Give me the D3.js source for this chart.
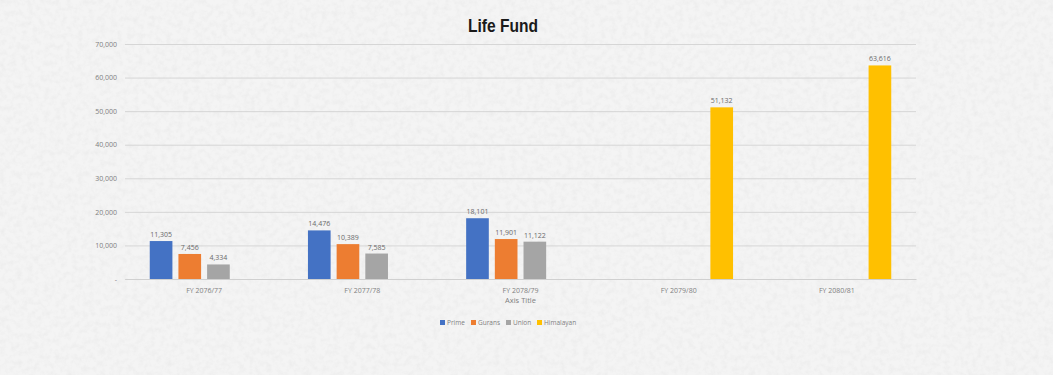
<!DOCTYPE html>
<html>
<head>
<meta charset="utf-8">
<script src="https://cdn.jsdelivr.net/npm/d3@7"></script>
<style>
  html, body { margin: 0; padding: 0; background: #f2f2f2; }
  svg { display: block; }
  .tick text { font-family: "Open Sans", sans-serif; }
</style>
</head>
<body>
<div id="chart"></div>
<script>
// Chart data
const categories = ['FY 2076/77', 'FY 2077/78', 'FY 2078/79', 'FY 2079/80', 'FY 2080/81'];
const seriesNames = ['Prime', 'Gurans', 'Union', 'Himalayan'];
const prime = [11305, 14476, 18101, null, null];
const gurans = [7456, 10389, 11901, null, null];
const union = [4334, 7585, 11122, null, null];
const himalayan = [null, null, null, 51132, 63616];
const yTicks = [0, 10000, 20000, 30000, 40000, 50000, 60000, 70000];
const colors = ['#4472c4', '#ed7d31', '#a5a5a5', '#ffc000'];

const seriesValues = [prime, gurans, union, himalayan];

const width = 1053, height = 375;
const margin = { top: 44, right: 137, bottom: 96, left: 125 };
const innerW = width - margin.left - margin.right;
const innerH = height - margin.top - margin.bottom;

const svg = d3.select('#chart').append('svg')
  .attr('width', width)
  .attr('height', height);

// paper-like texture background
const defs = svg.append('defs');
const filt = defs.append('filter').attr('id', 'paper')
  .attr('x', 0).attr('y', 0).attr('width', '100%').attr('height', '100%');
filt.append('feTurbulence')
  .attr('type', 'fractalNoise').attr('baseFrequency', 0.18)
  .attr('numOctaves', 3).attr('seed', 5).attr('result', 'noise');
filt.append('feColorMatrix').attr('in', 'noise').attr('type', 'matrix')
  .attr('values', '0 0 0 0 0.6  0 0 0 0 0.6  0 0 0 0 0.6  1.4 0 0 0 -0.55')
  .attr('result', 'spots');
filt.append('feComposite').attr('in', 'spots').attr('in2', 'SourceGraphic').attr('operator', 'in');

svg.append('rect').attr('width', width).attr('height', height).attr('fill', '#f4f4f4');
svg.append('rect').attr('width', width).attr('height', height)
  .attr('fill', '#fff').attr('filter', 'url(#paper)').attr('opacity', 0.25);

const g = svg.append('g').attr('transform', `translate(${margin.left},${margin.top})`);

const x0 = d3.scaleBand().domain(categories).range([0, innerW]).padding(0);
const x1 = d3.scaleBand().domain(seriesNames).range([0, x0.bandwidth()])
  .paddingInner(0.21).paddingOuter(0.863);
const y = d3.scaleLinear().domain([0, 70000]).range([innerH, 0]);

// gridlines
g.append('g')
  .call(d3.axisLeft(y).tickValues(yTicks).tickSize(-innerW).tickFormat(''))
  .call(a => a.select('.domain').remove())
  .call(a => a.selectAll('line').attr('stroke', '#d6d6d6').attr('stroke-width', 1));

// y axis labels
g.append('g')
  .call(d3.axisLeft(y).tickValues(yTicks).tickSize(0).tickPadding(8)
    .tickFormat(d => d === 0 ? '-' : d3.format(',')(d)))
  .call(a => a.select('.domain').remove())
  .call(a => a.selectAll('text').attr('fill', '#7f7f7f').style('font-size', '7px'));

// x axis
g.append('g')
  .attr('transform', `translate(0,${innerH})`)
  .call(d3.axisBottom(x0).tickSize(0).tickPadding(9))
  .call(a => a.select('.domain').attr('stroke', '#d0d0d0'))
  .call(a => a.selectAll('text').attr('fill', '#7f7f7f').style('font-size', '7px'));

// bars
const groups = g.selectAll('.cat')
  .data(categories)
  .join('g')
  .attr('class', 'cat')
  .attr('transform', d => `translate(${x0(d)},0)`);

const cells = groups.selectAll('.bar')
  .data((c, i) => seriesNames.map((s, j) => ({ s, j, v: seriesValues[j][i] })).filter(d => d.v != null))
  .join('g').attr('class', 'bar');

cells.append('rect')
  .attr('x', d => x1(d.s))
  .attr('y', d => y(d.v))
  .attr('width', x1.bandwidth())
  .attr('height', d => innerH - y(d.v))
  .attr('fill', d => colors[d.j]);

cells.append('text')
  .attr('x', d => x1(d.s) + x1.bandwidth() / 2)
  .attr('y', d => y(d.v) - 4)
  .attr('text-anchor', 'middle')
  .attr('fill', '#6a6a6a')
  .style('font-family', '"Open Sans", sans-serif')
  .style('font-size', '7px')
  .text(d => d3.format(',')(d.v));

// axis title
svg.append('text')
  .attr('x', margin.left + innerW / 2)
  .attr('y', 303)
  .attr('text-anchor', 'middle')
  .attr('fill', '#7f7f7f')
  .style('font-family', '"Open Sans", sans-serif')
  .style('font-size', '7.5px')
  .text('Axis Title');

// chart title
svg.append('text')
  .attr('x', 503)
  .attr('y', 32)
  .attr('text-anchor', 'middle')
  .attr('fill', '#1a1a1a')
  .attr('transform', 'translate(503,0) scale(0.82,1) translate(-503,0)')
  .style('font-family', '"Liberation Sans", Arial, sans-serif')
  .style('font-weight', 'bold')
  .style('font-size', '19px')
  .text('Life Fund');

// legend
const legendItems = [
  { name: 'Prime', x: 440 },
  { name: 'Gurans', x: 471 },
  { name: 'Union', x: 506 },
  { name: 'Himalayan', x: 537 }
];
const legend = svg.append('g').attr('class', 'legend');
const li = legend.selectAll('g').data(legendItems).join('g')
  .attr('transform', d => `translate(${d.x},320)`);
li.append('rect').attr('width', 5).attr('height', 5)
  .attr('fill', (d, i) => colors[i]);
li.append('text')
  .attr('x', 7).attr('y', 5)
  .attr('fill', '#7f7f7f')
  .style('font-family', '"Open Sans", sans-serif')
  .style('font-size', '6.5px')
  .text(d => d.name);
</script>
</body>
</html>
